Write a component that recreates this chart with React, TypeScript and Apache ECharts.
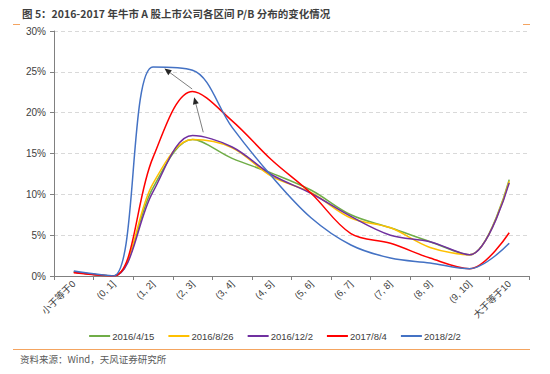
import React, { useEffect, useRef } from "react";
import * as echarts from "echarts";

const categories = ["小于等于0", "(0, 1]", "(1, 2]", "(2, 3]", "(3, 4]", "(4, 5]", "(5, 6]", "(6, 7]", "(7, 8]", "(8, 9]", "(9, 10]", "大于等于10"];
const seriesNames = ["2016/4/15", "2016/8/26", "2016/12/2", "2017/8/4", "2018/2/2"];
const s20160415 = [0.5, 0, 10.8, 16.7, 14.4, 12.6, 10.5, 7.5, 5.9, 4.2, 2.6, 11.8];
const s20160826 = [0.5, 0, 11.3, 16.7, 15.7, 12.2, 10.2, 7.1, 5.9, 3.5, 2.6, 11.6];
const s20161202 = [0.5, 0, 10.3, 17.2, 15.8, 12.4, 10.1, 7.3, 5.0, 4.2, 2.6, 11.4];
const s20170804 = [0.4, 0, 14.5, 22.6, 19.0, 14.2, 10.1, 5.2, 4.0, 2.2, 0.9, 5.3];
const s20180202 = [0.6, 0, 25.6, 25.2, 18.2, 12.2, 7.1, 3.8, 2.2, 1.6, 0.9, 4.0];
const colors = ["#70ad47", "#ffc000", "#7030a0", "#ff0000", "#4472c4"];
const yTicks = [0, 5, 10, 15, 20, 25, 30];
// annotation arrows in data space: [categoryIndex (fractional), value]
const arrows = [
  { from: [3.27, 17.6], to: [3.04, 21.9] },
  { from: [2.99, 22.9], to: [2.29, 25.4] },
];

export default function App() {
  const ref = useRef<HTMLDivElement>(null);
  useEffect(() => {
    if (!ref.current) return;
    const chart = echarts.init(ref.current, undefined, { renderer: "svg" });
    const data = [s20160415, s20160826, s20161202, s20170804, s20180202];
    chart.setOption({
      animation: false,
      textStyle: { fontFamily: "Liberation Sans, Arial, sans-serif" },
      grid: { left: 54, right: 21, top: 31, bottom: 98, containLabel: false },
      xAxis: {
        type: "category",
        data: categories,
        boundaryGap: true,
        axisLine: { lineStyle: { color: "#808080", width: 1 } },
        axisTick: { show: true, length: 4, lineStyle: { color: "#808080" } },
        axisLabel: {
          rotate: 45,
          color: "#404040",
          fontSize: 9.5,
          margin: 6,
          fontFamily: "Liberation Sans, 'Noto Sans CJK SC', sans-serif",
          interval: 0,
        },
        splitLine: { show: false },
      },
      yAxis: {
        type: "value",
        min: yTicks[0],
        max: yTicks[yTicks.length - 1],
        interval: 5,
        axisLine: { show: true, lineStyle: { color: "#808080", width: 1 } },
        axisTick: { show: true, length: 4, lineStyle: { color: "#808080" } },
        axisLabel: { formatter: "{value}%", color: "#404040", fontSize: 10, margin: 8 },
        splitLine: { show: true, lineStyle: { color: "#d9d9d9", type: [4, 3], width: 1 } },
      },
      legend: {
        bottom: 28,
        left: "center",
        itemWidth: 21,
        itemHeight: 2,
        itemGap: 14,
        icon: "rect",
        textStyle: { color: "#404040", fontSize: 9.5, padding: [0, 0, 0, -3] },
        data: seriesNames,
      },
      series: seriesNames.map((name, i) => ({
        name,
        type: "line",
        data: data[i],
        smooth: 0.35,
        showSymbol: false,
        symbol: "none",
        lineStyle: { color: colors[i], width: 1.5 },
        itemStyle: { color: colors[i] },
      })),
      graphic: [
        { type: "text", left: 22, top: 8, style: { text: "图 5：2016-2017 年牛市 A 股上市公司各区间 P/B 分布的变化情况", fill: "#3f3f3f", fontSize: 10.5, fontWeight: "bold", fontFamily: "'Noto Sans CJK SC', sans-serif" } },
        { type: "line", shape: { x1: 13, y1: 24.5, x2: 20, y2: 24.5 }, style: { stroke: "#f4a460", lineWidth: 1 } },
        { type: "line", shape: { x1: 523, y1: 24.5, x2: 530, y2: 24.5 }, style: { stroke: "#f4a460", lineWidth: 1 } },
        { type: "line", shape: { x1: 13, y1: 349.5, x2: 530, y2: 349.5 }, style: { stroke: "#f4a460", lineWidth: 1 } },
        { type: "text", left: 20, top: 354, style: { text: "资料来源：Wind，天风证券研究所", fill: "#595959", fontSize: 9.5, fontFamily: "'Noto Sans CJK SC', sans-serif" } },
      ],
    });
    const toPx = (p: number[]) => {
      const i0 = Math.floor(p[0]);
      const f = p[0] - i0;
      const a = chart.convertToPixel({ xAxisIndex: 0, yAxisIndex: 0 }, [i0, p[1]]) as number[];
      const b = chart.convertToPixel({ xAxisIndex: 0, yAxisIndex: 0 }, [i0 + 1, p[1]]) as number[];
      return [a[0] + f * (b[0] - a[0]), a[1]];
    };
    const g: any[] = [];
    arrows.forEach((ar, k) => {
      const p1 = toPx(ar.from);
      const p2 = toPx(ar.to);
      const dx = p2[0] - p1[0];
      const dy = p2[1] - p1[1];
      const len = Math.sqrt(dx * dx + dy * dy);
      const ux = dx / len, uy = dy / len;
      const hl = 7, hw = 3;
      const bx = p2[0] - ux * hl, by = p2[1] - uy * hl;
      g.push({ id: "al" + k, type: "line", shape: { x1: p1[0], y1: p1[1], x2: bx, y2: by }, style: { stroke: "#7f7f7f", lineWidth: 1 }, z: 10 });
      g.push({ id: "ah" + k, type: "polygon", shape: { points: [[p2[0], p2[1]], [bx - uy * hw, by + ux * hw], [bx + uy * hw, by - ux * hw]] }, style: { fill: "#262626" }, z: 10 });
    });
    chart.setOption({ graphic: g });
    return () => chart.dispose();
  }, []);
  return <div ref={ref} style={{ width: 550, height: 374, position: "absolute", left: 0, top: 0 }} />;
}
